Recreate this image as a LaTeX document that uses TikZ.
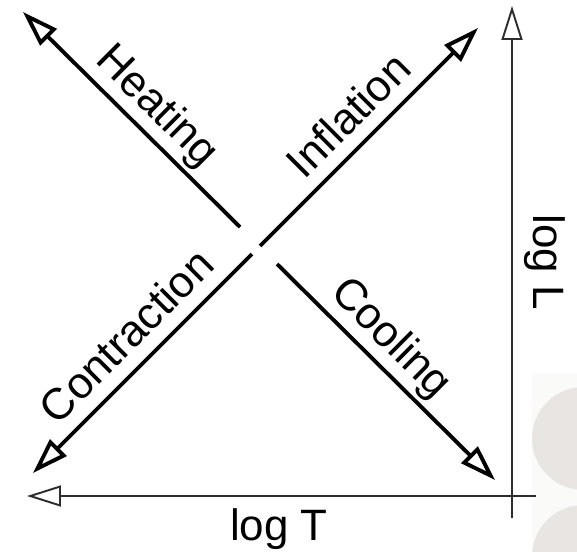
\documentclass[tikz,border=0pt]{standalone}
\usepackage{fontspec}
\setmainfont{Liberation Sans}
\usetikzlibrary{arrows.meta}
\definecolor{axisgray}{RGB}{45,45,45}
\definecolor{discgray}{RGB}{232,229,227}
\definecolor{panelgray}{RGB}{250,250,249}
\tikzset{
  flowhead/.tip={Triangle[open,length=0.72cm,width=0.46cm]},
  axishead/.tip={Triangle[open,length=0.68cm,width=0.42cm]},
}

\begin{document}
\begin{tikzpicture}[x=0.02cm, y=-0.02cm,
    flowline/.style={line width=2.2pt, line join=miter},
    axisline/.style={axisgray, line width=1.1pt},
    lbl/.style={font=\fontsize{25}{30}\selectfont, anchor=base, inner sep=0pt}]
    % Frame
    \clip (0,0) rectangle (577,551);
    \useasboundingbox (0,0) rectangle (577,551);
    % Discs in the corner
    \fill[panelgray] (532,373) rectangle (577,551);
    \fill[discgray] (583.5,438.5) circle (51.5);
    \fill[discgray] (583.5,556.5) circle (51.5);
    % Ends of the two tracks
    \coordinate (heattip) at (23,12);
    \coordinate (gapa1) at (240,227);
    \coordinate (gapa2) at (277,264);
    \coordinate (cooltip) at (495,480);
    \coordinate (conttip) at (33,473);
    \coordinate (gapb1) at (252,254);
    \coordinate (gapb2) at (260,246);
    \coordinate (infltip) at (478,28);
    % Tracks
    \draw[flowline, flowhead-] (heattip) -- (gapa1);
    \draw[flowline, -flowhead] (gapa2) -- (cooltip);
    \draw[flowline, flowhead-] (conttip) -- (gapb1);
    \draw[flowline, -flowhead] (gapb2) -- (infltip);
    % Axes
    \coordinate (ltip) at (512,6);
    \coordinate (lfoot) at (512,518);
    \coordinate (ttip) at (27,496);
    \coordinate (tfoot) at (536,496);
    \draw[axisline, -axishead] (lfoot) -- (ltip);
    \draw[axisline, -axishead] (tfoot) -- (ttip);
    % Labels
    \node[lbl, rotate=-44.8] (heating) at (148,115) {Heating};
    \node[lbl, rotate=-44.8] (cooling) at (382,347) {Cooling};
    \node[lbl, rotate=45] (inflation) at (359,126) {Inflation};
    \node[lbl, rotate=45] (contraction) at (137,347) {Contraction};
    \node[lbl] (logt) at (279,540) {log T};
    \node[lbl, rotate=-90] (logl) at (533,262) {log L};
\end{tikzpicture}
\end{document}
